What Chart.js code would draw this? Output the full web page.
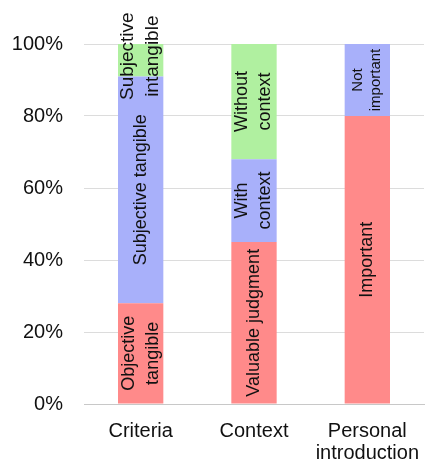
<!DOCTYPE html>
<html>
<head>
<meta charset="utf-8">
<script src="https://cdn.jsdelivr.net/npm/chart.js@4/dist/chart.umd.min.js"></script>
<style>
html,body{margin:0;padding:0;background:#fff;}
#wrap{width:428px;height:467px;}
</style>
</head>
<body>
<div id="wrap"><canvas id="c" width="428" height="467"></canvas></div>
<script>
const categories = ["Criteria", "Context", ["Personal", "introduction"]];
const bottomValues = [28, 45, 80];
const middleValues = [63, 23, 20];
const topValues = [9, 32, 0];
const bottomLabels = [["Objective", "tangible"], ["Valuable judgment"], ["Important"]];
const middleLabels = [["Subjective tangible"], ["With", "context"], ["Not", "important"]];
const topLabels = [["Subjective", "intangible"], ["Without", "context"], []];
const yTickValues = [0, 20, 40, 60, 80, 100];

const FONT = "'Liberation Sans', Arial, sans-serif";

const segLabelPlugin = {
  id: 'segLabels',
  afterDatasetsDraw(chart) {
    const ctx = chart.ctx;
    chart.data.datasets.forEach((ds, di) => {
      const meta = chart.getDatasetMeta(di);
      meta.data.forEach((bar, i) => {
        const lines = ds.segLabels[i];
        if (!lines || !lines.length) return;
        const size = ds.segFont[i];
        const lh = ds.segLine[i];
        const cx = bar.x;
        const cy = (bar.y + bar.base) / 2 + ds.segShift[i];
        ctx.save();
        ctx.translate(cx, cy);
        ctx.rotate(-Math.PI / 2);
        ctx.font = size + 'px ' + FONT;
        ctx.fillStyle = '#111';
        ctx.textAlign = 'center';
        ctx.textBaseline = 'middle';
        const n = lines.length;
        lines.forEach((t, k) => {
          ctx.fillText(t, 0, (k - (n - 1) / 2) * lh);
        });
        ctx.restore();
      });
    });
  }
};

new Chart(document.getElementById('c'), {
  type: 'bar',
  data: {
    labels: categories,
    datasets: [
      { data: bottomValues, backgroundColor: 'rgb(255,138,138)', segLabels: bottomLabels, segFont: [18, 18, 18], segLine: [24, 24, 24], segShift: [0, 0, 0] },
      { data: middleValues, backgroundColor: 'rgb(168,176,250)', segLabels: middleLabels, segFont: [18, 18, 15], segLine: [24, 23, 18], segShift: [0, 0, 0] },
      { data: topValues, backgroundColor: 'rgb(176,240,160)', segLabels: topLabels, segFont: [19, 18, 18], segLine: [25, 23, 24], segShift: [-4, 0, 0] }
    ]
  },
  options: {
    responsive: false,
    animation: false,
    devicePixelRatio: 1,
    layout: { padding: { top: 44, right: 4, left: 0, bottom: 0 } },
    plugins: { legend: { display: false }, tooltip: { enabled: false } },
    datasets: { bar: { barPercentage: 0.4, categoryPercentage: 1.0, borderWidth: 0 } },
    scales: {
      x: {
        stacked: true,
        grid: { display: false, drawTicks: false },
        border: { display: true, color: '#c8c8c8', width: 1 },
        ticks: { color: '#111', padding: 16, maxRotation: 0, font: { family: FONT, size: 20, lineHeight: 1.1 } },
        afterFit(s) { s.height = 63; s.paddingLeft = 0; s.paddingRight = 0; }
      },
      y: {
        stacked: true,
        min: 0, max: 100,
        afterBuildTicks(s) { s.ticks = yTickValues.map(v => ({ value: v })); },
        grid: { color: '#dcdcdc', drawTicks: false },
        border: { display: false },
        ticks: { color: '#111', padding: 21, font: { family: FONT, size: 20 }, callback: v => v + '%' },
        afterFit(s) { s.width = 84; s.paddingTop = 0; s.paddingBottom = 0; }
      }
    }
  },
  plugins: [segLabelPlugin]
});
</script>
</body>
</html>
